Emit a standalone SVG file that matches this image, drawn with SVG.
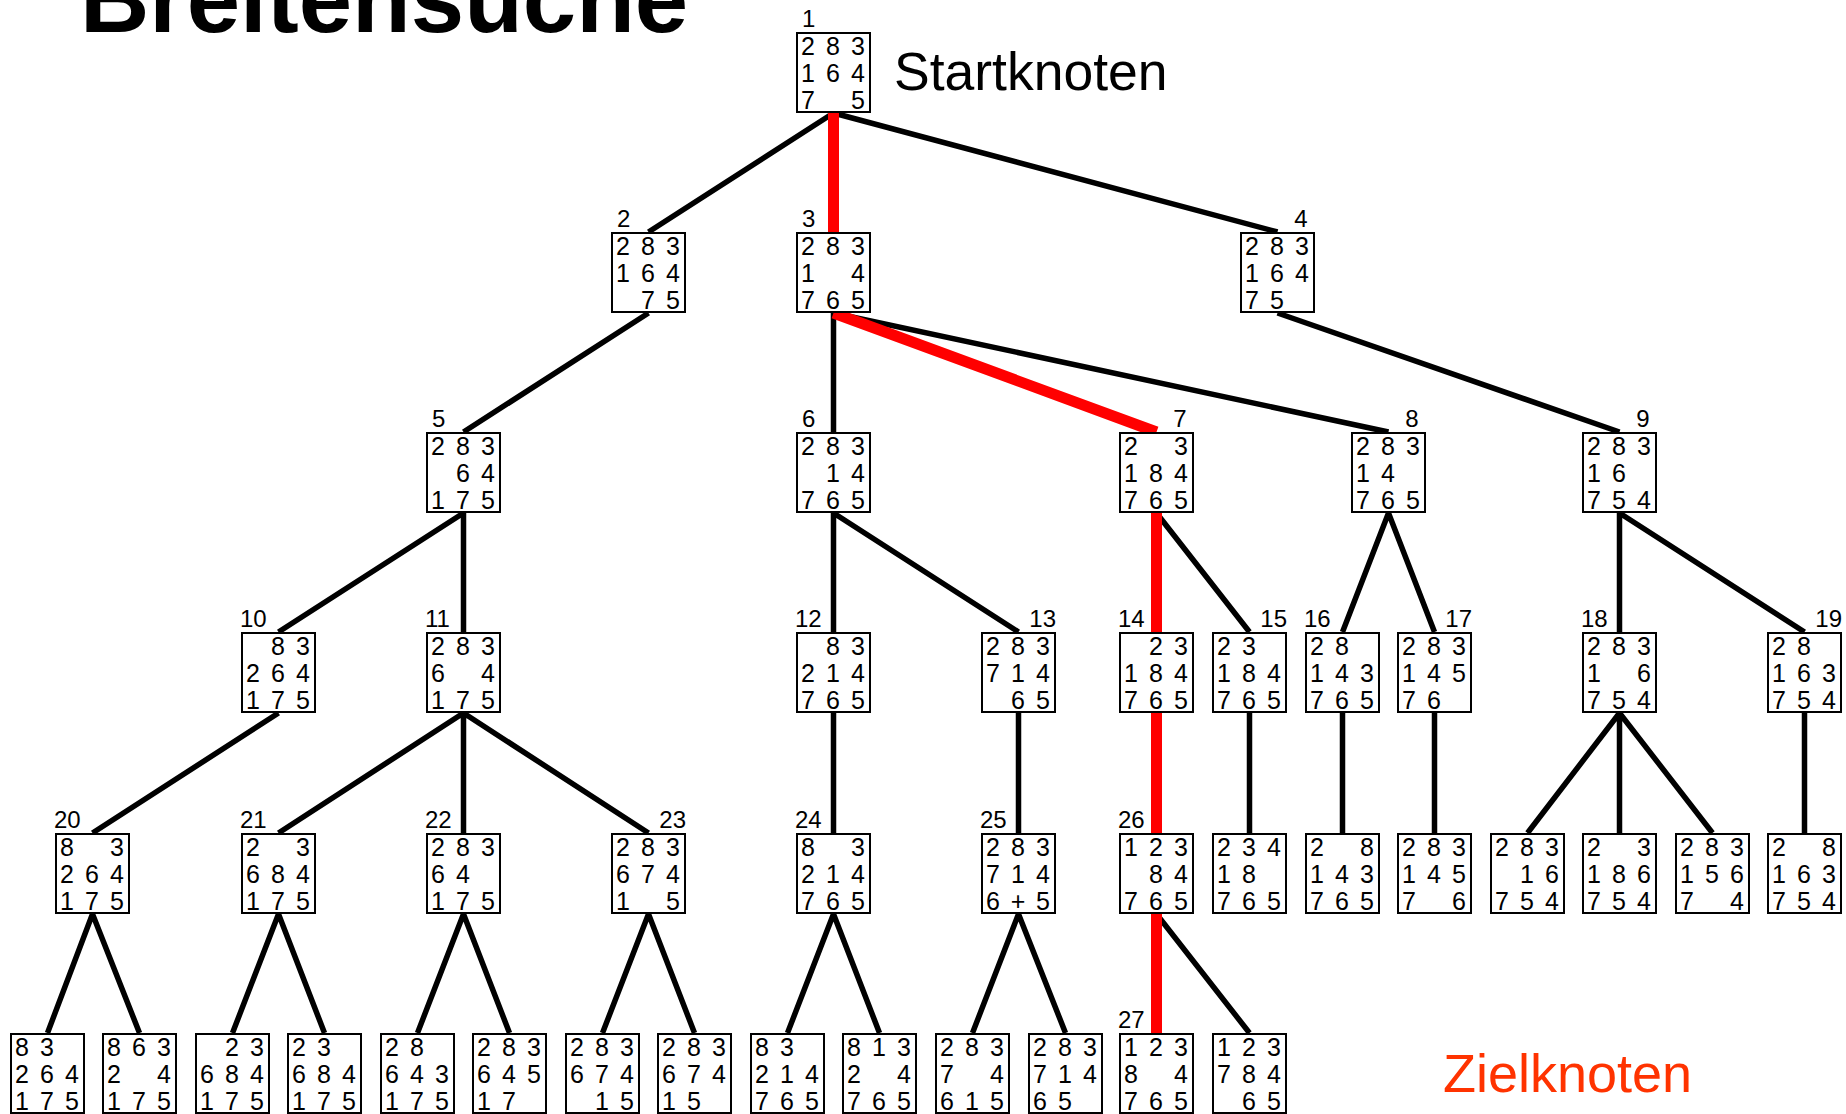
<svg xmlns="http://www.w3.org/2000/svg" width="1846" height="1114" viewBox="0 0 1846 1114">
<style>
  .b{fill:#fff;stroke:#000;stroke-width:2}
  .d{font-family:"Liberation Sans",Arial,sans-serif;font-size:25px;fill:#000;text-anchor:middle}
  .l{font-family:"Liberation Sans",Arial,sans-serif;font-size:24px;fill:#000}
  .le{font-family:"Liberation Sans",Arial,sans-serif;font-size:24px;fill:#000;text-anchor:end}
  .e{stroke:#000;stroke-width:5.5;fill:none}
  .r{stroke:#f00;stroke-width:11;fill:none}
  .t{font-family:"Liberation Sans",Arial,sans-serif;fill:#000}
</style>
<rect width="1846" height="1114" fill="#fff"/>

<!-- titles and annotations -->
<text class="t" x="80" y="32" font-size="96" font-weight="bold">Breitensuche</text>
<text class="t" x="894" y="90" font-size="53.5">Startknoten</text>
<text class="t" x="1443" y="1092" font-size="54" style="fill:#ff3300">Zielknoten</text>

<!-- connectors: parent bottom centre to child top centre -->
<g id="edges">
  <path class="e" d="M833.5 113L648.5 232M833.5 113L1277.5 232"/>
  <path class="e" d="M648.5 313L463.5 432M833.5 313V432M833.5 313L1388.5 432M1277.5 313L1619.5 432"/>
  <path class="e" d="M463.5 513L278.5 632M463.5 513V632M833.5 513V632M833.5 513L1018.5 632M1156.5 513L1249.5 632M1388.5 513L1342.5 632M1388.5 513L1434.5 632M1619.5 513V632M1619.5 513L1804.5 632"/>
  <path class="e" d="M278.5 713L92.5 833M463.5 713L278.5 833M463.5 713V833M463.5 713L648.5 833M833.5 713V833M1018.5 713V833M1249.5 713V833M1342.5 713V833M1434.5 713V833M1619.5 713L1527.5 833M1619.5 713V833M1619.5 713L1712.5 833M1804.5 713V833"/>
  <path class="e" d="M92.5 914L47.5 1033M92.5 914L139.5 1033M278.5 914L232.5 1033M278.5 914L324.5 1033M463.5 914L417.5 1033M463.5 914L509.5 1033M648.5 914L602.5 1033M648.5 914L694.5 1033M833.5 914L787.5 1033M833.5 914L879.5 1033M1018.5 914L972.5 1033M1018.5 914L1065.5 1033M1156.5 914L1249.5 1033"/>
  <path class="r" d="M833.5 113V232M833.5 313L1156.5 432M1156.5 513V632M1156.5 713V833M1156.5 914V1033"/>
</g>

<!-- level 0 -->
<g id="n1" transform="translate(796 32)"><rect class="b" x="1" y="1" width="73" height="79"/><text class="d" xml:space="preserve"><tspan x="12 24.5 37 49.5 62" y="23">2 8 3</tspan><tspan x="12 24.5 37 49.5 62" y="50">1 6 4</tspan><tspan x="12 24.5 37 49.5 62" y="77">7   5</tspan></text><text class="l" x="6" y="-5.5">1</text></g>

<!-- level 1 -->
<g id="n2" transform="translate(611 232)"><rect class="b" x="1" y="1" width="73" height="79"/><text class="d" xml:space="preserve"><tspan x="12 24.5 37 49.5 62" y="23">2 8 3</tspan><tspan x="12 24.5 37 49.5 62" y="50">1 6 4</tspan><tspan x="12 24.5 37 49.5 62" y="77">  7 5</tspan></text><text class="l" x="6" y="-5.5">2</text></g>
<g id="n3" transform="translate(796 232)"><rect class="b" x="1" y="1" width="73" height="79"/><text class="d" xml:space="preserve"><tspan x="12 24.5 37 49.5 62" y="23">2 8 3</tspan><tspan x="12 24.5 37 49.5 62" y="50">1   4</tspan><tspan x="12 24.5 37 49.5 62" y="77">7 6 5</tspan></text><text class="l" x="6" y="-5.5">3</text></g>
<g id="n4" transform="translate(1240 232)"><rect class="b" x="1" y="1" width="73" height="79"/><text class="d" xml:space="preserve"><tspan x="12 24.5 37 49.5 62" y="23">2 8 3</tspan><tspan x="12 24.5 37 49.5 62" y="50">1 6 4</tspan><tspan x="12 24.5 37 49.5 62" y="77">7 5  </tspan></text><text class="le" x="67.5" y="-5.5">4</text></g>

<!-- level 2 -->
<g id="n5" transform="translate(426 432)"><rect class="b" x="1" y="1" width="73" height="79"/><text class="d" xml:space="preserve"><tspan x="12 24.5 37 49.5 62" y="23">2 8 3</tspan><tspan x="12 24.5 37 49.5 62" y="50">  6 4</tspan><tspan x="12 24.5 37 49.5 62" y="77">1 7 5</tspan></text><text class="l" x="6" y="-5.5">5</text></g>
<g id="n6" transform="translate(796 432)"><rect class="b" x="1" y="1" width="73" height="79"/><text class="d" xml:space="preserve"><tspan x="12 24.5 37 49.5 62" y="23">2 8 3</tspan><tspan x="12 24.5 37 49.5 62" y="50">  1 4</tspan><tspan x="12 24.5 37 49.5 62" y="77">7 6 5</tspan></text><text class="l" x="6" y="-5.5">6</text></g>
<g id="n7" transform="translate(1119 432)"><rect class="b" x="1" y="1" width="73" height="79"/><text class="d" xml:space="preserve"><tspan x="12 24.5 37 49.5 62" y="23">2   3</tspan><tspan x="12 24.5 37 49.5 62" y="50">1 8 4</tspan><tspan x="12 24.5 37 49.5 62" y="77">7 6 5</tspan></text><text class="le" x="67.5" y="-5.5">7</text></g>
<g id="n8" transform="translate(1351 432)"><rect class="b" x="1" y="1" width="73" height="79"/><text class="d" xml:space="preserve"><tspan x="12 24.5 37 49.5 62" y="23">2 8 3</tspan><tspan x="12 24.5 37 49.5 62" y="50">1 4  </tspan><tspan x="12 24.5 37 49.5 62" y="77">7 6 5</tspan></text><text class="le" x="67.5" y="-5.5">8</text></g>
<g id="n9" transform="translate(1582 432)"><rect class="b" x="1" y="1" width="73" height="79"/><text class="d" xml:space="preserve"><tspan x="12 24.5 37 49.5 62" y="23">2 8 3</tspan><tspan x="12 24.5 37 49.5 62" y="50">1 6  </tspan><tspan x="12 24.5 37 49.5 62" y="77">7 5 4</tspan></text><text class="le" x="67.5" y="-5.5">9</text></g>

<!-- level 3 -->
<g id="n10" transform="translate(241 632)"><rect class="b" x="1" y="1" width="73" height="79"/><text class="d" xml:space="preserve"><tspan x="12 24.5 37 49.5 62" y="23">  8 3</tspan><tspan x="12 24.5 37 49.5 62" y="50">2 6 4</tspan><tspan x="12 24.5 37 49.5 62" y="77">1 7 5</tspan></text><text class="l" x="-1" y="-5.5">10</text></g>
<g id="n11" transform="translate(426 632)"><rect class="b" x="1" y="1" width="73" height="79"/><text class="d" xml:space="preserve"><tspan x="12 24.5 37 49.5 62" y="23">2 8 3</tspan><tspan x="12 24.5 37 49.5 62" y="50">6   4</tspan><tspan x="12 24.5 37 49.5 62" y="77">1 7 5</tspan></text><text class="l" x="-1" y="-5.5">11</text></g>
<g id="n12" transform="translate(796 632)"><rect class="b" x="1" y="1" width="73" height="79"/><text class="d" xml:space="preserve"><tspan x="12 24.5 37 49.5 62" y="23">  8 3</tspan><tspan x="12 24.5 37 49.5 62" y="50">2 1 4</tspan><tspan x="12 24.5 37 49.5 62" y="77">7 6 5</tspan></text><text class="l" x="-1" y="-5.5">12</text></g>
<g id="n13" transform="translate(981 632)"><rect class="b" x="1" y="1" width="73" height="79"/><text class="d" xml:space="preserve"><tspan x="12 24.5 37 49.5 62" y="23">2 8 3</tspan><tspan x="12 24.5 37 49.5 62" y="50">7 1 4</tspan><tspan x="12 24.5 37 49.5 62" y="77">  6 5</tspan></text><text class="le" x="75" y="-5.5">13</text></g>
<g id="n14" transform="translate(1119 632)"><rect class="b" x="1" y="1" width="73" height="79"/><text class="d" xml:space="preserve"><tspan x="12 24.5 37 49.5 62" y="23">  2 3</tspan><tspan x="12 24.5 37 49.5 62" y="50">1 8 4</tspan><tspan x="12 24.5 37 49.5 62" y="77">7 6 5</tspan></text><text class="l" x="-1" y="-5.5">14</text></g>
<g id="n15" transform="translate(1212 632)"><rect class="b" x="1" y="1" width="73" height="79"/><text class="d" xml:space="preserve"><tspan x="12 24.5 37 49.5 62" y="23">2 3  </tspan><tspan x="12 24.5 37 49.5 62" y="50">1 8 4</tspan><tspan x="12 24.5 37 49.5 62" y="77">7 6 5</tspan></text><text class="le" x="75" y="-5.5">15</text></g>
<g id="n16" transform="translate(1305 632)"><rect class="b" x="1" y="1" width="73" height="79"/><text class="d" xml:space="preserve"><tspan x="12 24.5 37 49.5 62" y="23">2 8  </tspan><tspan x="12 24.5 37 49.5 62" y="50">1 4 3</tspan><tspan x="12 24.5 37 49.5 62" y="77">7 6 5</tspan></text><text class="l" x="-1" y="-5.5">16</text></g>
<g id="n17" transform="translate(1397 632)"><rect class="b" x="1" y="1" width="73" height="79"/><text class="d" xml:space="preserve"><tspan x="12 24.5 37 49.5 62" y="23">2 8 3</tspan><tspan x="12 24.5 37 49.5 62" y="50">1 4 5</tspan><tspan x="12 24.5 37 49.5 62" y="77">7 6  </tspan></text><text class="le" x="75" y="-5.5">17</text></g>
<g id="n18" transform="translate(1582 632)"><rect class="b" x="1" y="1" width="73" height="79"/><text class="d" xml:space="preserve"><tspan x="12 24.5 37 49.5 62" y="23">2 8 3</tspan><tspan x="12 24.5 37 49.5 62" y="50">1   6</tspan><tspan x="12 24.5 37 49.5 62" y="77">7 5 4</tspan></text><text class="l" x="-1" y="-5.5">18</text></g>
<g id="n19" transform="translate(1767 632)"><rect class="b" x="1" y="1" width="73" height="79"/><text class="d" xml:space="preserve"><tspan x="12 24.5 37 49.5 62" y="23">2 8  </tspan><tspan x="12 24.5 37 49.5 62" y="50">1 6 3</tspan><tspan x="12 24.5 37 49.5 62" y="77">7 5 4</tspan></text><text class="le" x="75" y="-5.5">19</text></g>

<!-- level 4 -->
<g id="n20" transform="translate(55 833)"><rect class="b" x="1" y="1" width="73" height="79"/><text class="d" xml:space="preserve"><tspan x="12 24.5 37 49.5 62" y="23">8   3</tspan><tspan x="12 24.5 37 49.5 62" y="50">2 6 4</tspan><tspan x="12 24.5 37 49.5 62" y="77">1 7 5</tspan></text><text class="l" x="-1" y="-5.5">20</text></g>
<g id="n21" transform="translate(241 833)"><rect class="b" x="1" y="1" width="73" height="79"/><text class="d" xml:space="preserve"><tspan x="12 24.5 37 49.5 62" y="23">2   3</tspan><tspan x="12 24.5 37 49.5 62" y="50">6 8 4</tspan><tspan x="12 24.5 37 49.5 62" y="77">1 7 5</tspan></text><text class="l" x="-1" y="-5.5">21</text></g>
<g id="n22" transform="translate(426 833)"><rect class="b" x="1" y="1" width="73" height="79"/><text class="d" xml:space="preserve"><tspan x="12 24.5 37 49.5 62" y="23">2 8 3</tspan><tspan x="12 24.5 37 49.5 62" y="50">6 4  </tspan><tspan x="12 24.5 37 49.5 62" y="77">1 7 5</tspan></text><text class="l" x="-1" y="-5.5">22</text></g>
<g id="n23" transform="translate(611 833)"><rect class="b" x="1" y="1" width="73" height="79"/><text class="d" xml:space="preserve"><tspan x="12 24.5 37 49.5 62" y="23">2 8 3</tspan><tspan x="12 24.5 37 49.5 62" y="50">6 7 4</tspan><tspan x="12 24.5 37 49.5 62" y="77">1   5</tspan></text><text class="le" x="75" y="-5.5">23</text></g>
<g id="n24" transform="translate(796 833)"><rect class="b" x="1" y="1" width="73" height="79"/><text class="d" xml:space="preserve"><tspan x="12 24.5 37 49.5 62" y="23">8   3</tspan><tspan x="12 24.5 37 49.5 62" y="50">2 1 4</tspan><tspan x="12 24.5 37 49.5 62" y="77">7 6 5</tspan></text><text class="l" x="-1" y="-5.5">24</text></g>
<g id="n25" transform="translate(981 833)"><rect class="b" x="1" y="1" width="73" height="79"/><text class="d" xml:space="preserve"><tspan x="12 24.5 37 49.5 62" y="23">2 8 3</tspan><tspan x="12 24.5 37 49.5 62" y="50">7 1 4</tspan><tspan x="12 24.5 37 49.5 62" y="77">6 + 5</tspan></text><text class="l" x="-1" y="-5.5">25</text></g>
<g id="n26" transform="translate(1119 833)"><rect class="b" x="1" y="1" width="73" height="79"/><text class="d" xml:space="preserve"><tspan x="12 24.5 37 49.5 62" y="23">1 2 3</tspan><tspan x="12 24.5 37 49.5 62" y="50">  8 4</tspan><tspan x="12 24.5 37 49.5 62" y="77">7 6 5</tspan></text><text class="l" x="-1" y="-5.5">26</text></g>
<g id="n15a" transform="translate(1212 833)"><rect class="b" x="1" y="1" width="73" height="79"/><text class="d" xml:space="preserve"><tspan x="12 24.5 37 49.5 62" y="23">2 3 4</tspan><tspan x="12 24.5 37 49.5 62" y="50">1 8  </tspan><tspan x="12 24.5 37 49.5 62" y="77">7 6 5</tspan></text></g>
<g id="n16a" transform="translate(1305 833)"><rect class="b" x="1" y="1" width="73" height="79"/><text class="d" xml:space="preserve"><tspan x="12 24.5 37 49.5 62" y="23">2   8</tspan><tspan x="12 24.5 37 49.5 62" y="50">1 4 3</tspan><tspan x="12 24.5 37 49.5 62" y="77">7 6 5</tspan></text></g>
<g id="n17a" transform="translate(1397 833)"><rect class="b" x="1" y="1" width="73" height="79"/><text class="d" xml:space="preserve"><tspan x="12 24.5 37 49.5 62" y="23">2 8 3</tspan><tspan x="12 24.5 37 49.5 62" y="50">1 4 5</tspan><tspan x="12 24.5 37 49.5 62" y="77">7   6</tspan></text></g>
<g id="n18a" transform="translate(1490 833)"><rect class="b" x="1" y="1" width="73" height="79"/><text class="d" xml:space="preserve"><tspan x="12 24.5 37 49.5 62" y="23">2 8 3</tspan><tspan x="12 24.5 37 49.5 62" y="50">  1 6</tspan><tspan x="12 24.5 37 49.5 62" y="77">7 5 4</tspan></text></g>
<g id="n18b" transform="translate(1582 833)"><rect class="b" x="1" y="1" width="73" height="79"/><text class="d" xml:space="preserve"><tspan x="12 24.5 37 49.5 62" y="23">2   3</tspan><tspan x="12 24.5 37 49.5 62" y="50">1 8 6</tspan><tspan x="12 24.5 37 49.5 62" y="77">7 5 4</tspan></text></g>
<g id="n18c" transform="translate(1675 833)"><rect class="b" x="1" y="1" width="73" height="79"/><text class="d" xml:space="preserve"><tspan x="12 24.5 37 49.5 62" y="23">2 8 3</tspan><tspan x="12 24.5 37 49.5 62" y="50">1 5 6</tspan><tspan x="12 24.5 37 49.5 62" y="77">7   4</tspan></text></g>
<g id="n19a" transform="translate(1767 833)"><rect class="b" x="1" y="1" width="73" height="79"/><text class="d" xml:space="preserve"><tspan x="12 24.5 37 49.5 62" y="23">2   8</tspan><tspan x="12 24.5 37 49.5 62" y="50">1 6 3</tspan><tspan x="12 24.5 37 49.5 62" y="77">7 5 4</tspan></text></g>

<!-- level 5 -->
<g id="n20a" transform="translate(10 1033)"><rect class="b" x="1" y="1" width="73" height="79"/><text class="d" xml:space="preserve"><tspan x="12 24.5 37 49.5 62" y="23">8 3  </tspan><tspan x="12 24.5 37 49.5 62" y="50">2 6 4</tspan><tspan x="12 24.5 37 49.5 62" y="77">1 7 5</tspan></text></g>
<g id="n20b" transform="translate(102 1033)"><rect class="b" x="1" y="1" width="73" height="79"/><text class="d" xml:space="preserve"><tspan x="12 24.5 37 49.5 62" y="23">8 6 3</tspan><tspan x="12 24.5 37 49.5 62" y="50">2   4</tspan><tspan x="12 24.5 37 49.5 62" y="77">1 7 5</tspan></text></g>
<g id="n21a" transform="translate(195 1033)"><rect class="b" x="1" y="1" width="73" height="79"/><text class="d" xml:space="preserve"><tspan x="12 24.5 37 49.5 62" y="23">  2 3</tspan><tspan x="12 24.5 37 49.5 62" y="50">6 8 4</tspan><tspan x="12 24.5 37 49.5 62" y="77">1 7 5</tspan></text></g>
<g id="n21b" transform="translate(287 1033)"><rect class="b" x="1" y="1" width="73" height="79"/><text class="d" xml:space="preserve"><tspan x="12 24.5 37 49.5 62" y="23">2 3  </tspan><tspan x="12 24.5 37 49.5 62" y="50">6 8 4</tspan><tspan x="12 24.5 37 49.5 62" y="77">1 7 5</tspan></text></g>
<g id="n22a" transform="translate(380 1033)"><rect class="b" x="1" y="1" width="73" height="79"/><text class="d" xml:space="preserve"><tspan x="12 24.5 37 49.5 62" y="23">2 8  </tspan><tspan x="12 24.5 37 49.5 62" y="50">6 4 3</tspan><tspan x="12 24.5 37 49.5 62" y="77">1 7 5</tspan></text></g>
<g id="n22b" transform="translate(472 1033)"><rect class="b" x="1" y="1" width="73" height="79"/><text class="d" xml:space="preserve"><tspan x="12 24.5 37 49.5 62" y="23">2 8 3</tspan><tspan x="12 24.5 37 49.5 62" y="50">6 4 5</tspan><tspan x="12 24.5 37 49.5 62" y="77">1 7  </tspan></text></g>
<g id="n23a" transform="translate(565 1033)"><rect class="b" x="1" y="1" width="73" height="79"/><text class="d" xml:space="preserve"><tspan x="12 24.5 37 49.5 62" y="23">2 8 3</tspan><tspan x="12 24.5 37 49.5 62" y="50">6 7 4</tspan><tspan x="12 24.5 37 49.5 62" y="77">  1 5</tspan></text></g>
<g id="n23b" transform="translate(657 1033)"><rect class="b" x="1" y="1" width="73" height="79"/><text class="d" xml:space="preserve"><tspan x="12 24.5 37 49.5 62" y="23">2 8 3</tspan><tspan x="12 24.5 37 49.5 62" y="50">6 7 4</tspan><tspan x="12 24.5 37 49.5 62" y="77">1 5  </tspan></text></g>
<g id="n24a" transform="translate(750 1033)"><rect class="b" x="1" y="1" width="73" height="79"/><text class="d" xml:space="preserve"><tspan x="12 24.5 37 49.5 62" y="23">8 3  </tspan><tspan x="12 24.5 37 49.5 62" y="50">2 1 4</tspan><tspan x="12 24.5 37 49.5 62" y="77">7 6 5</tspan></text></g>
<g id="n24b" transform="translate(842 1033)"><rect class="b" x="1" y="1" width="73" height="79"/><text class="d" xml:space="preserve"><tspan x="12 24.5 37 49.5 62" y="23">8 1 3</tspan><tspan x="12 24.5 37 49.5 62" y="50">2   4</tspan><tspan x="12 24.5 37 49.5 62" y="77">7 6 5</tspan></text></g>
<g id="n25a" transform="translate(935 1033)"><rect class="b" x="1" y="1" width="73" height="79"/><text class="d" xml:space="preserve"><tspan x="12 24.5 37 49.5 62" y="23">2 8 3</tspan><tspan x="12 24.5 37 49.5 62" y="50">7   4</tspan><tspan x="12 24.5 37 49.5 62" y="77">6 1 5</tspan></text></g>
<g id="n25b" transform="translate(1028 1033)"><rect class="b" x="1" y="1" width="73" height="79"/><text class="d" xml:space="preserve"><tspan x="12 24.5 37 49.5 62" y="23">2 8 3</tspan><tspan x="12 24.5 37 49.5 62" y="50">7 1 4</tspan><tspan x="12 24.5 37 49.5 62" y="77">6 5  </tspan></text></g>
<g id="n27" transform="translate(1119 1033)"><rect class="b" x="1" y="1" width="73" height="79"/><text class="d" xml:space="preserve"><tspan x="12 24.5 37 49.5 62" y="23">1 2 3</tspan><tspan x="12 24.5 37 49.5 62" y="50">8   4</tspan><tspan x="12 24.5 37 49.5 62" y="77">7 6 5</tspan></text><text class="l" x="-1" y="-5.5">27</text></g>
<g id="n26a" transform="translate(1212 1033)"><rect class="b" x="1" y="1" width="73" height="79"/><text class="d" xml:space="preserve"><tspan x="12 24.5 37 49.5 62" y="23">1 2 3</tspan><tspan x="12 24.5 37 49.5 62" y="50">7 8 4</tspan><tspan x="12 24.5 37 49.5 62" y="77">  6 5</tspan></text></g>
</svg>
